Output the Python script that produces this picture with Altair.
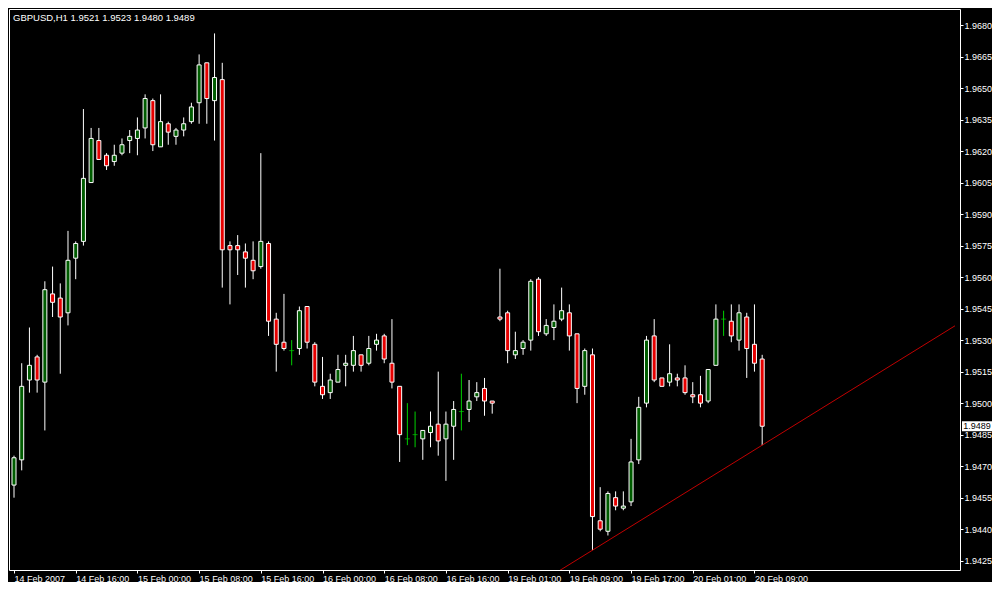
import json
import altair as alt
import pandas as pd

# ---- data (GBPUSD H1) ----
bar_index = list(range(98))
opens = [1.9461, 1.9473, 1.9511, 1.9522, 1.9510, 1.9552, 1.9550, 1.9543, 1.9569, 1.9577,
         1.9605, 1.9625, 1.9618, 1.9615, 1.9619, 1.9625, 1.9626, 1.9631, 1.9644, 1.9622,
         1.9633, 1.9627, 1.9630, 1.9634, 1.9643, 1.9662, 1.9644, 1.9654, 1.9575, 1.9575,
         1.9572, 1.9568, 1.9565, 1.9576, 1.9540, 1.9529, 1.9525, 1.9526, 1.9546, 1.9528,
         1.9508, 1.9505, 1.9510, 1.9518, 1.9518, 1.9523, 1.9519, 1.9528, 1.9532, 1.9519,
         1.9508, 1.9483, 1.9485, 1.9483, 1.9486, 1.9490, 1.9483, 1.9489, 1.9496, 1.9497,
         1.9503, 1.9507, 1.9501, 1.9541, 1.9543, 1.9523, 1.9526, 1.9530, 1.9559, 1.9533,
         1.9536, 1.9540, 1.9543, 1.9533, 1.9508, 1.9523, 1.9444, 1.9439, 1.9455, 1.9450,
         1.9453, 1.9473, 1.9500, 1.9532, 1.9512, 1.9510, 1.9512, 1.9512, 1.9504, 1.9504,
         1.9501, 1.9518, 1.9540, 1.9539, 1.9530, 1.9541, 1.9528, 1.9521]
highs = [1.9475, 1.9519, 1.9536, 1.9523, 1.9558, 1.9565, 1.9557, 1.9582, 1.9577, 1.9640,
         1.9631, 1.9631, 1.9619, 1.9623, 1.9626, 1.9630, 1.9636, 1.9647, 1.9645, 1.9647,
         1.9634, 1.9631, 1.9636, 1.9643, 1.9666, 1.9662, 1.9676, 1.9662, 1.9577, 1.9580,
         1.9576, 1.9577, 1.9619, 1.9577, 1.9543, 1.9552, 1.9530, 1.9546, 1.9546, 1.9529,
         1.9522, 1.9514, 1.9523, 1.9523, 1.9532, 1.9523, 1.9532, 1.9533, 1.9533, 1.9540,
         1.9508, 1.9500, 1.9496, 1.9487, 1.9496, 1.9515, 1.9496, 1.9501, 1.9514, 1.9511,
         1.9510, 1.9512, 1.9501, 1.9564, 1.9544, 1.9534, 1.9530, 1.9559, 1.9560, 1.9540,
         1.9547, 1.9555, 1.9547, 1.9533, 1.9526, 1.9526, 1.9460, 1.9458, 1.9458, 1.9458,
         1.9483, 1.9503, 1.9532, 1.9540, 1.9512, 1.9528, 1.9514, 1.9518, 1.9510, 1.9513,
         1.9516, 1.9547, 1.9544, 1.9547, 1.9547, 1.9543, 1.9547, 1.9523]
lows = [1.9455, 1.9468, 1.9505, 1.9505, 1.9487, 1.9541, 1.9514, 1.9537, 1.9559, 1.9575,
        1.9605, 1.9616, 1.9611, 1.9613, 1.9618, 1.9619, 1.9618, 1.9626, 1.9620, 1.9622,
        1.9623, 1.9623, 1.9627, 1.9633, 1.9633, 1.9633, 1.9625, 1.9555, 1.9547, 1.9561,
        1.9555, 1.9559, 1.9564, 1.9532, 1.9515, 1.9525, 1.9518, 1.9523, 1.9526, 1.9508,
        1.9502, 1.9502, 1.9510, 1.9508, 1.9515, 1.9515, 1.9518, 1.9525, 1.9519, 1.9507,
        1.9472, 1.9480, 1.9479, 1.9473, 1.9479, 1.9475, 1.9463, 1.9473, 1.9487, 1.9491,
        1.9501, 1.9494, 1.9495, 1.9539, 1.9519, 1.9521, 1.9523, 1.9525, 1.9532, 1.9532,
        1.9530, 1.9539, 1.9525, 1.9500, 1.9504, 1.9430, 1.9439, 1.9437, 1.9449, 1.9449,
        1.9451, 1.9471, 1.9498, 1.9510, 1.9508, 1.9508, 1.9508, 1.9504, 1.9500, 1.9498,
        1.9500, 1.9518, 1.9532, 1.9529, 1.9525, 1.9512, 1.9515, 1.9480]
closes = [1.9474, 1.9508, 1.9518, 1.9511, 1.9554, 1.9548, 1.9541, 1.9568, 1.9576, 1.9607,
          1.9626, 1.9616, 1.9613, 1.9618, 1.9623, 1.9627, 1.9630, 1.9645, 1.9623, 1.9634,
          1.9629, 1.9630, 1.9633, 1.9641, 1.9661, 1.9645, 1.9655, 1.9573, 1.9573, 1.9573,
          1.9569, 1.9563, 1.9577, 1.9539, 1.9528, 1.9526, 1.9525, 1.9544, 1.9529, 1.9510,
          1.9504, 1.9511, 1.9516, 1.9519, 1.9525, 1.9518, 1.9526, 1.9530, 1.9521, 1.9510,
          1.9485, 1.9483, 1.9485, 1.9487, 1.9489, 1.9482, 1.9490, 1.9497, 1.9496, 1.9501,
          1.9505, 1.9501, 1.9500, 1.9540, 1.9525, 1.9525, 1.9529, 1.9558, 1.9534, 1.9537,
          1.9539, 1.9544, 1.9532, 1.9507, 1.9525, 1.9446, 1.9440, 1.9457, 1.9451, 1.9451,
          1.9472, 1.9498, 1.9530, 1.9511, 1.9508, 1.9514, 1.9511, 1.9505, 1.9503, 1.9500,
          1.9516, 1.9540, 1.9540, 1.9532, 1.9543, 1.9526, 1.9519, 1.9489]

x_tick_index = [0, 8, 16, 24, 32, 40, 48, 56, 64, 72, 80, 88, 96]
x_tick_labels = ["14 Feb 2007", "14 Feb 16:00", "15 Feb 00:00", "15 Feb 08:00",
                 "15 Feb 16:00", "16 Feb 00:00", "16 Feb 08:00", "16 Feb 16:00",
                 "19 Feb 01:00", "19 Feb 09:00", "19 Feb 17:00", "20 Feb 01:00",
                 "20 Feb 09:00"]
y_tick_values = [1.9425, 1.9440, 1.9455, 1.9470, 1.9485, 1.9500, 1.9515, 1.9530,
                 1.9545, 1.9560, 1.9575, 1.9590, 1.9605, 1.9620, 1.9635, 1.9650,
                 1.9665, 1.9680]
symbol_name = "GBPUSD,H1"
trend_anchor_index = [75, 97]
trend_anchor_price = [1.9430, 1.9480]
trend_extent_index = [70, 122]

# ---- tables ----
df = pd.DataFrame({"i": bar_index, "o": opens, "h": highs, "l": lows, "c": closes})
df["kind"] = ["up" if c > o else ("down" if c < o else "doji") for o, c in zip(opens, closes)]

slope = (trend_anchor_price[1] - trend_anchor_price[0]) / (trend_anchor_index[1] - trend_anchor_index[0])
trend_df = pd.DataFrame({
    "i": trend_extent_index,
    "p": [trend_anchor_price[0] + slope * (k - trend_anchor_index[0]) for k in trend_extent_index],
})
last = df.iloc[-1]
title_df = pd.DataFrame({"t": [f"{symbol_name}  {last.o:.4f} {last.h:.4f} {last.l:.4f} {last.c:.4f}"]})
last_df = pd.DataFrame({"p": [last.c], "t": [f"{last.c:.4f}"]})

FONT = "Liberation Sans, Arial, sans-serif"
FS = 9
WHITE = "#ffffff"

x_scale = alt.Scale(domain=[0, 122], nice=False, zero=False)
y_scale = alt.Scale(domain=[1.942057, 1.968762], nice=False, zero=False)

label_expr = json.dumps(x_tick_labels) + "[round(datum.value / 8)]"

x_axis = alt.Axis(values=x_tick_index, labelExpr=label_expr, orient="bottom", grid=False,
                  domain=False, ticks=True, tickSize=3, tickColor=WHITE, labelColor=WHITE,
                  labelFont=FONT, labelFontSize=FS, labelAlign="left", labelBaseline="top",
                  labelPadding=1, labelOverlap=False, labelFlush=False, labelBound=False,
                  title=None)
y_axis = alt.Axis(values=y_tick_values, format=".4f", orient="right", grid=False,
                  domain=False, ticks=True, tickSize=3, tickColor=WHITE, labelColor=WHITE,
                  labelFont=FONT, labelFontSize=FS, labelAlign="left", labelBaseline="middle",
                  labelPadding=1, labelOverlap=False, labelFlush=False, labelBound=False,
                  title=None)


def X(field):
    return alt.X(field, scale=x_scale, axis=x_axis, title=None)


def Y(field):
    return alt.Y(field, scale=y_scale, axis=y_axis, title=None)


kind_color = alt.Scale(domain=["up", "down", "doji"], range=["#005c00", "#e60000", "#00d000"])
wick_color = alt.Scale(domain=["up", "down", "doji"], range=[WHITE, WHITE, "#00d000"])

base = alt.Chart(df)

wicks = base.mark_rule(strokeWidth=1, clip=True).encode(
    x=X("i:Q"), y=Y("l:Q"), y2="h:Q",
    color=alt.Color("kind:N", scale=wick_color, legend=None),
)

bodies = base.transform_filter("datum.kind != 'doji'").mark_bar(
    size=4, stroke=WHITE, strokeWidth=1, clip=True
).encode(
    x=X("i:Q"), y=Y("o:Q"), y2="c:Q",
    fill=alt.Fill("kind:N", scale=kind_color, legend=None),
)

dojis = base.transform_filter("datum.kind == 'doji'").mark_tick(
    orient="horizontal", size=5, thickness=1, color="#00d000", clip=True
).encode(x=X("i:Q"), y=Y("o:Q"))

trend = alt.Chart(trend_df).mark_line(color="#c00000", strokeWidth=1, clip=True).encode(
    x=X("i:Q"), y=Y("p:Q"),
)

title_txt = alt.Chart(title_df).mark_text(
    align="left", baseline="alphabetic", color=WHITE, font=FONT, fontSize=FS + 0.5
).encode(x=alt.value(4), y=alt.value(12), text="t:N")

price_box = alt.Chart(last_df).mark_point(
    shape="M-1,-0.333H1V0.333H-1Z", filled=True, color=WHITE, opacity=1, size=900
).encode(x=alt.value(968), y=Y("p:Q"))

price_txt = alt.Chart(last_df).mark_text(
    align="center", baseline="middle", color="#000000", font=FONT, fontSize=FS
).encode(x=alt.value(968), y=Y("p:Q"), text="t:N")

chart = alt.layer(wicks, bodies, dojis, trend, title_txt, price_box, price_txt).properties(
    width=951, height=561,
    padding={"left": 1, "top": 1, "right": 32, "bottom": 12},
    autosize=alt.AutoSizeParams(type="none"),
    background="#000000",
).configure_view(stroke=WHITE, strokeWidth=1)

chart.save("out.html", embed_options={"renderer": "svg", "actions": False})
